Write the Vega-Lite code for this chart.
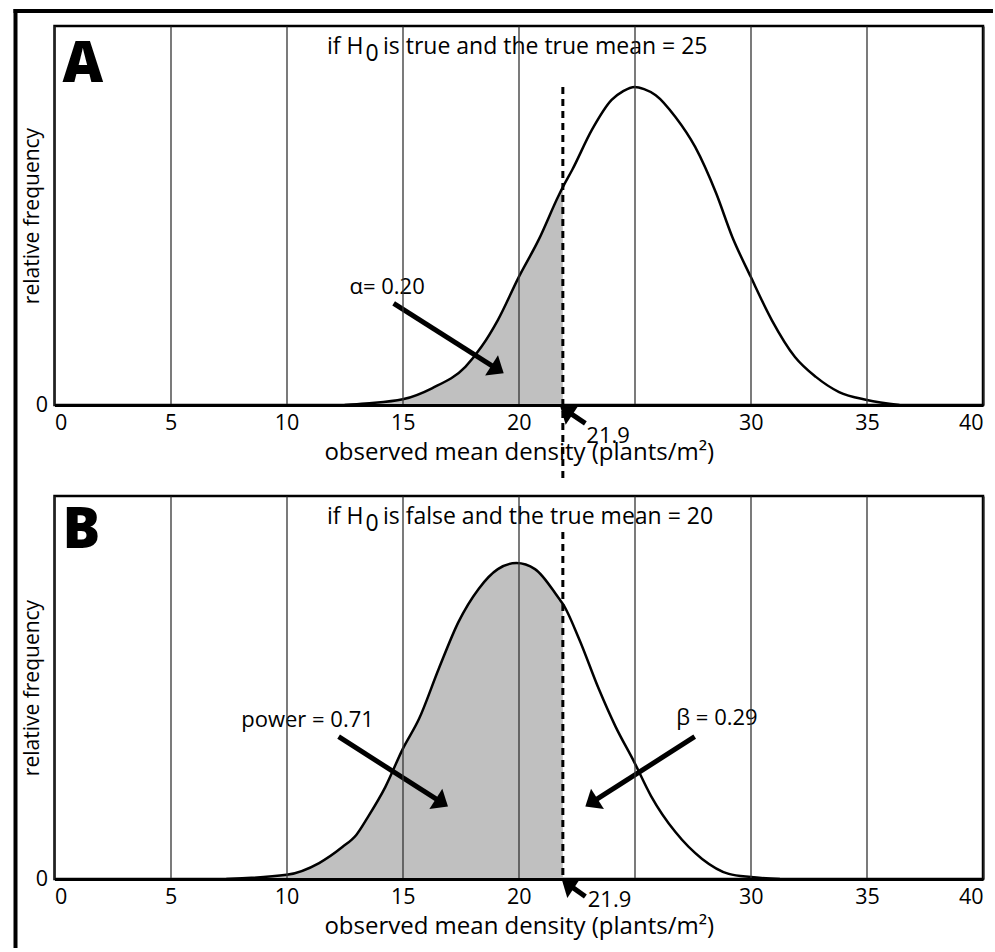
{
  "$schema": "https://vega.github.io/schema/vega-lite/v6.json",
  "background": "white",
  "padding": {"left": 9.5, "top": 5, "right": 0, "bottom": 0},
  "bounds": "flush",
  "spacing": 91,
  "config": {
    "font": "Open Sans",
    "view": {"stroke": "black", "strokeWidth": 2.5},
    "axis": {
      "labelFont": "Open Sans", "titleFont": "Open Sans", "labelColor": "black", "titleColor": "black",
      "labelFontSize": 21.5, "titleFontSize": 24, "titleFontWeight": "normal"
    }
  },
  "datasets": {
    "curveA": [
      {"x": 12.5, "y": 0}, {"x": 13.4, "y": 0.005}, {"x": 15.0, "y": 0.018}, {"x": 16.26, "y": 0.053},
      {"x": 17.7, "y": 0.121}, {"x": 18.4, "y": 0.185}, {"x": 19.1, "y": 0.269}, {"x": 20.0, "y": 0.405},
      {"x": 20.85, "y": 0.522}, {"x": 21.73, "y": 0.665}, {"x": 21.9, "y": 0.69}, {"x": 22.3, "y": 0.744},
      {"x": 23.15, "y": 0.871}, {"x": 24.0, "y": 0.966}, {"x": 24.5, "y": 0.994}, {"x": 25.0, "y": 1.007},
      {"x": 25.4, "y": 1.0}, {"x": 25.9, "y": 0.981}, {"x": 26.75, "y": 0.912}, {"x": 27.6, "y": 0.817},
      {"x": 28.5, "y": 0.671}, {"x": 29.2, "y": 0.532}, {"x": 30.0, "y": 0.405}, {"x": 30.9, "y": 0.269},
      {"x": 31.9, "y": 0.152}, {"x": 32.8, "y": 0.089}, {"x": 33.8, "y": 0.041}, {"x": 35.0, "y": 0.016},
      {"x": 36.4, "y": 0}
    ],
    "curveB": [
      {"x": 7.4, "y": 0}, {"x": 10.0, "y": 0.013}, {"x": 11.4, "y": 0.05}, {"x": 12.4, "y": 0.1},
      {"x": 13.0, "y": 0.138}, {"x": 13.5, "y": 0.194}, {"x": 14.25, "y": 0.288}, {"x": 15.0, "y": 0.407},
      {"x": 15.7, "y": 0.501}, {"x": 16.55, "y": 0.658}, {"x": 17.4, "y": 0.805}, {"x": 18.27, "y": 0.909},
      {"x": 19.1, "y": 0.971}, {"x": 19.9, "y": 0.99}, {"x": 20.7, "y": 0.971}, {"x": 21.75, "y": 0.877},
      {"x": 21.9, "y": 0.862}, {"x": 22.6, "y": 0.752}, {"x": 23.45, "y": 0.595}, {"x": 24.16, "y": 0.479},
      {"x": 24.97, "y": 0.367}, {"x": 25.7, "y": 0.26}, {"x": 26.75, "y": 0.147}, {"x": 27.9, "y": 0.063},
      {"x": 29.05, "y": 0.016}, {"x": 30.0, "y": 0.006}, {"x": 31.25, "y": 0}
    ],
    "titleA": [
      {"x": 11.74, "y": 1.111, "label": "if H"},
      {"x": 13.4, "y": 1.0876, "label": "0"},
      {"x": 14.15, "y": 1.111, "label": "is true and the true mean = 25"}
    ],
    "titleB": [
      {"x": 11.74, "y": 1.112, "label": "if H"},
      {"x": 13.4, "y": 1.089, "label": "0"},
      {"x": 14.15, "y": 1.112, "label": "is false and the true mean = 20"}
    ],
    "notesA": [
      {"x": 14.33, "y": 0.374, "label": "α= 0.20"},
      {"x": 23.85, "y": -0.098, "label": "21.9"}
    ],
    "notesB": [
      {"x": 10.9, "y": 0.498, "label": "power = 0.71"},
      {"x": 28.54, "y": 0.503, "label": "β = 0.29"},
      {"x": 23.91, "y": -0.066, "label": "21.9"}
    ],
    "arrowsA": [
      {"x": 14.61, "y": 0.322, "x2": 19.09, "y2": 0.113, "angle": 122.5},
      {"x": 22.87, "y": -0.058, "x2": 22.05, "y2": -0.018, "angle": -56.4}
    ],
    "arrowsB": [
      {"x": 12.24, "y": 0.446, "x2": 16.69, "y2": 0.239, "angle": 122.6},
      {"x": 27.58, "y": 0.446, "x2": 23.13, "y2": 0.239, "angle": -122.6},
      {"x": 22.87, "y": -0.055, "x2": 22.12, "y2": -0.016, "angle": -56.4}
    ],
    "cutA": [{"x": 21.9, "y": 1.007, "y2": -0.237}],
    "cutB": [{"x": 21.9, "y": 1.087, "y2": 0}],
    "letterA": [{"x": 0.35, "y": 1.0227, "label": "A"}],
    "letterB": [{"x": 0.35, "y": 1.036, "label": "B"}],
    "frame": [
      {"x": -1.68, "y": 1.2538, "x2": -1.68, "y2": -1.719},
      {"x": -1.766, "y": 1.2475, "x2": 40.43, "y2": 1.2475}
    ]
  },
  "vconcat": [
    {
      "width": 928.5,
      "height": 379,
      "layer": [
        {
          "data": {"name": "curveA"},
          "transform": [{"filter": {"field": "x", "lte": 21.9}}],
          "mark": {"type": "area", "color": "#c0c0c0", "interpolate": "monotone"},
          "encoding": {
            "x": {"field": "x", "type": "quantitative", "scale": {"domain": [0, 40], "nice": false},
              "axis": {"values": [0, 5, 10, 15, 20, 25, 30, 35, 40], "labelExpr": "datum.value == 25 ? '' : datum.label",
                "grid": true, "gridColor": "#333", "gridWidth": 1.3,
                "domain": true, "domainColor": "black", "domainWidth": 3, "ticks": false, "labelPadding": 7,
                "title": "observed mean density (plants/m²)", "titlePadding": 7, "zindex": 1}},
            "y": {"field": "y", "type": "quantitative", "scale": {"domain": [0, 1.2], "nice": false},
              "axis": {"values": [0], "labelExpr": "'0'", "grid": false, "domain": false, "ticks": false, "labelPadding": 7,
                "title": "relative frequency", "titleFontSize": 21, "titlePadding": -7, "zindex": 1}}
          }
        },
        {
          "data": {"name": "curveA"},
          "mark": {"type": "line", "color": "black", "strokeWidth": 2.5, "interpolate": "monotone"},
          "encoding": {
            "x": {"field": "x", "type": "quantitative"},
            "y": {"field": "y", "type": "quantitative"}
          }
        },
        {
          "data": {"name": "cutA"},
          "mark": {"type": "rule", "color": "black", "strokeWidth": 3, "strokeDash": [7, 5]},
          "encoding": {
            "x": {"field": "x", "type": "quantitative"},
            "y": {"field": "y", "type": "quantitative"},
            "y2": {"field": "y2"}
          }
        },
        {
          "data": {"name": "arrowsA"},
          "mark": {"type": "rule", "color": "black", "strokeWidth": 5},
          "encoding": {
            "x": {"field": "x", "type": "quantitative"},
            "y": {"field": "y", "type": "quantitative"},
            "x2": {"field": "x2"},
            "y2": {"field": "y2"}
          }
        },
        {
          "data": {"name": "arrowsA"},
          "mark": {"type": "point", "shape": "M0,-0.6L1,0.6L-1,0.6Z", "filled": true, "color": "black", "size": 576, "opacity": 1},
          "encoding": {
            "x": {"field": "x2", "type": "quantitative"},
            "y": {"field": "y2", "type": "quantitative"},
            "angle": {"field": "angle", "type": "quantitative", "scale": null}
          }
        },
        {
          "data": {"name": "notesA"},
          "mark": {"type": "text", "fontSize": 22, "align": "center", "baseline": "middle", "color": "black"},
          "encoding": {
            "x": {"field": "x", "type": "quantitative"},
            "y": {"field": "y", "type": "quantitative"},
            "text": {"field": "label"}
          }
        },
        {
          "data": {"name": "titleA"},
          "mark": {"type": "text", "fontSize": 23, "align": "left", "baseline": "alphabetic", "color": "black"},
          "encoding": {
            "x": {"field": "x", "type": "quantitative"},
            "y": {"field": "y", "type": "quantitative"},
            "text": {"field": "label"}
          }
        },
        {
          "data": {"name": "letterA"},
          "mark": {"type": "text", "fontSize": 56, "fontWeight": 900, "align": "left", "baseline": "alphabetic", "color": "black"},
          "encoding": {
            "x": {"field": "x", "type": "quantitative"},
            "y": {"field": "y", "type": "quantitative"},
            "text": {"field": "label"}
          }
        },
        {
          "data": {"name": "frame"},
          "mark": {"type": "rule", "color": "black", "strokeWidth": 4},
          "encoding": {
            "x": {"field": "x", "type": "quantitative"},
            "y": {"field": "y", "type": "quantitative"},
            "x2": {"field": "x2"},
            "y2": {"field": "y2"}
          }
        }
      ]
    },
    {
      "width": 928.5,
      "height": 383,
      "layer": [
        {
          "data": {"name": "curveB"},
          "transform": [{"filter": {"field": "x", "lte": 21.9}}],
          "mark": {"type": "area", "color": "#c0c0c0", "interpolate": "monotone"},
          "encoding": {
            "x": {"field": "x", "type": "quantitative", "scale": {"domain": [0, 40], "nice": false},
              "axis": {"values": [0, 5, 10, 15, 20, 25, 30, 35, 40], "labelExpr": "datum.value == 25 ? '' : datum.label",
                "grid": true, "gridColor": "#333", "gridWidth": 1.3,
                "domain": true, "domainColor": "black", "domainWidth": 3, "ticks": false, "labelPadding": 7,
                "title": "observed mean density (plants/m²)", "titlePadding": 7, "zindex": 1}},
            "y": {"field": "y", "type": "quantitative", "scale": {"domain": [0, 1.2], "nice": false},
              "axis": {"values": [0], "labelExpr": "'0'", "grid": false, "domain": false, "ticks": false, "labelPadding": 7,
                "title": "relative frequency", "titleFontSize": 21, "titlePadding": -7, "zindex": 1}}
          }
        },
        {
          "data": {"name": "curveB"},
          "mark": {"type": "line", "color": "black", "strokeWidth": 2.5, "interpolate": "monotone"},
          "encoding": {
            "x": {"field": "x", "type": "quantitative"},
            "y": {"field": "y", "type": "quantitative"}
          }
        },
        {
          "data": {"name": "cutB"},
          "mark": {"type": "rule", "color": "black", "strokeWidth": 3, "strokeDash": [7, 5]},
          "encoding": {
            "x": {"field": "x", "type": "quantitative"},
            "y": {"field": "y", "type": "quantitative"},
            "y2": {"field": "y2"}
          }
        },
        {
          "data": {"name": "arrowsB"},
          "mark": {"type": "rule", "color": "black", "strokeWidth": 5},
          "encoding": {
            "x": {"field": "x", "type": "quantitative"},
            "y": {"field": "y", "type": "quantitative"},
            "x2": {"field": "x2"},
            "y2": {"field": "y2"}
          }
        },
        {
          "data": {"name": "arrowsB"},
          "mark": {"type": "point", "shape": "M0,-0.6L1,0.6L-1,0.6Z", "filled": true, "color": "black", "size": 576, "opacity": 1},
          "encoding": {
            "x": {"field": "x2", "type": "quantitative"},
            "y": {"field": "y2", "type": "quantitative"},
            "angle": {"field": "angle", "type": "quantitative", "scale": null}
          }
        },
        {
          "data": {"name": "notesB"},
          "mark": {"type": "text", "fontSize": 22, "align": "center", "baseline": "middle", "color": "black"},
          "encoding": {
            "x": {"field": "x", "type": "quantitative"},
            "y": {"field": "y", "type": "quantitative"},
            "text": {"field": "label"}
          }
        },
        {
          "data": {"name": "titleB"},
          "mark": {"type": "text", "fontSize": 23, "align": "left", "baseline": "alphabetic", "color": "black"},
          "encoding": {
            "x": {"field": "x", "type": "quantitative"},
            "y": {"field": "y", "type": "quantitative"},
            "text": {"field": "label"}
          }
        },
        {
          "data": {"name": "letterB"},
          "mark": {"type": "text", "fontSize": 56, "fontWeight": 900, "align": "left", "baseline": "alphabetic", "color": "black"},
          "encoding": {
            "x": {"field": "x", "type": "quantitative"},
            "y": {"field": "y", "type": "quantitative"},
            "text": {"field": "label"}
          }
        }
      ]
    }
  ]
}
